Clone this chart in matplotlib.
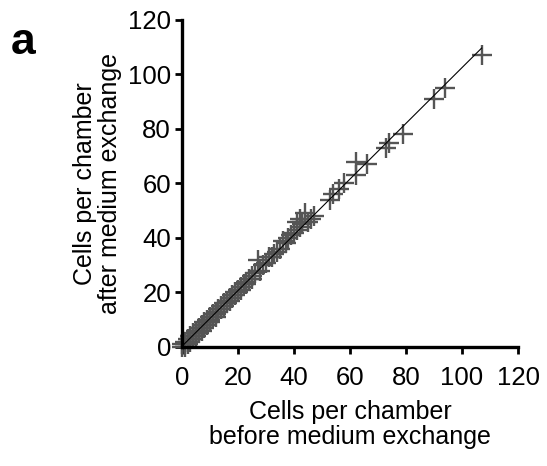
import matplotlib
matplotlib.use('Agg')
import matplotlib.pyplot as plt
import numpy as np

plt.rcParams['font.family'] = ['Liberation Sans', 'DejaVu Sans']

# cells per chamber, before / after medium exchange
before = [0, 0, 1, 1, 1, 2, 2, 2, 3, 3, 3, 4, 4, 4, 5, 5, 5, 6, 6, 6, 7, 7, 7,
          8, 8, 8, 9, 9, 9, 10, 10, 10, 11, 11, 12, 12, 12, 13, 13, 14, 14,
          15, 15, 16, 16, 17, 17, 18, 18, 19, 19, 20, 20, 21, 21, 22, 23, 23,
          24, 25, 25, 26, 27, 28, 29, 30, 31, 32, 33, 34, 35, 36, 37, 38, 39,
          40, 41, 41, 42, 42, 43, 43, 44, 45, 46, 47,
          53, 54, 56, 58, 62, 62, 66, 73, 74, 79, 90, 94, 107]
after = [0, 1, 1, 2, 0, 2, 3, 1, 3, 4, 2, 4, 5, 3, 5, 6, 4, 6, 7, 5, 7, 8, 6,
         8, 9, 7, 9, 10, 8, 10, 11, 9, 11, 12, 12, 13, 11, 13, 14, 14, 15,
         15, 16, 16, 17, 17, 18, 18, 19, 19, 20, 20, 21, 21, 22, 23, 23, 24,
         25, 25, 26, 27, 32, 28, 30, 31, 33, 33, 34, 35, 36, 39, 38, 40, 41,
         42, 43, 46, 44, 47, 45, 46, 49, 46, 47, 48,
         54, 56, 58, 60, 63, 68, 67, 73, 75, 78, 91, 95, 107]

x = np.array(before)
y = np.array(after)
slope, icpt = np.polyfit(x, y, 1)
xl = np.array([0, x.max()])

fig = plt.figure(figsize=(5.47, 4.66), dpi=100)
ax = fig.add_axes([0.3327, 0.2554, 0.6143, 0.7017])

ax.plot(x, y, ls='none', marker='+', ms=14, mew=1.7, color='#555555', clip_on=False, zorder=2)
ax.plot(xl, slope * xl + icpt, color='black', lw=0.8, zorder=3)

ax.set_xlim(0, 120)
ax.set_ylim(0, 120)
ax.set_xticks(range(0, 121, 20))
ax.set_yticks(range(0, 121, 20))
for s in ['top', 'right']:
    ax.spines[s].set_visible(False)
for s in ['left', 'bottom']:
    ax.spines[s].set_linewidth(2.4)
ax.tick_params(direction='out', length=5, width=2, labelsize=18.5)
ax.tick_params(axis='x', pad=9)
ax.tick_params(axis='y', pad=3)

ax.set_xlabel('Cells per chamber\nbefore medium exchange', fontsize=18, linespacing=1.05, labelpad=7)
ax.set_ylabel('Cells per chamber\nafter medium exchange', fontsize=18, linespacing=1.05, labelpad=4)

fig.text(0.02, 0.885, 'a', fontsize=32, fontweight='bold')

fig.savefig('out.png', dpi=100)
